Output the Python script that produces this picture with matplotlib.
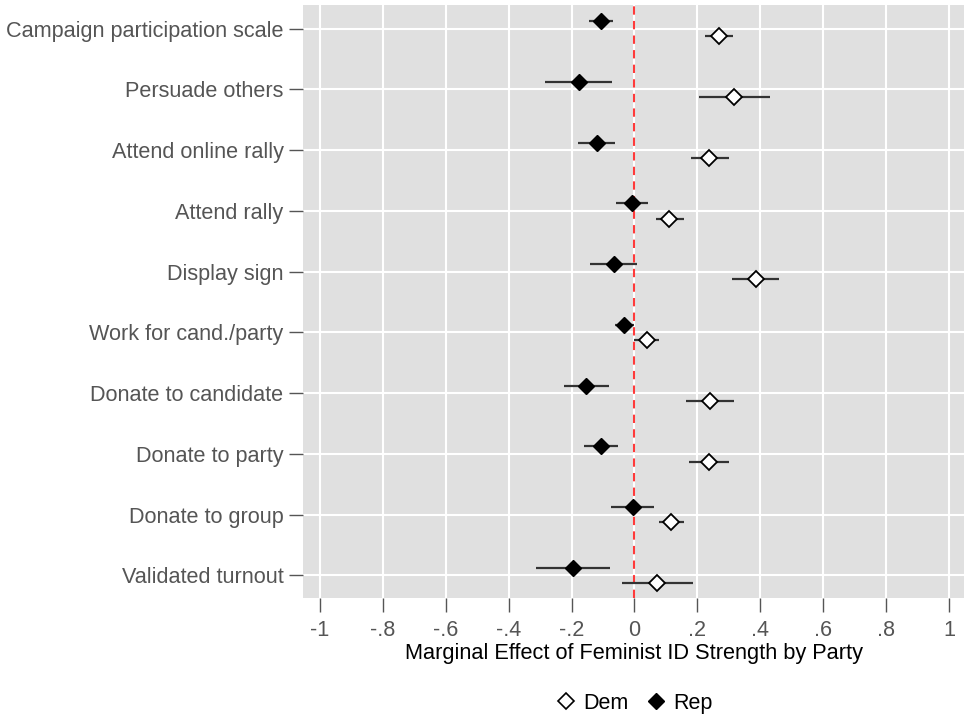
import numpy as np
import matplotlib.pyplot as plt
from matplotlib.lines import Line2D

plt.rcParams['font.family'] = ['Liberation Sans', 'DejaVu Sans']

# outcomes, top to bottom
outcomes = ["Campaign participation scale", "Persuade others", "Attend online rally",
            "Attend rally", "Display sign", "Work for cand./party", "Donate to candidate",
            "Donate to party", "Donate to group", "Validated turnout"]

# Dem estimates and 95% CI
dem_est = [0.268, 0.318, 0.238, 0.111, 0.386, 0.040, 0.240, 0.236, 0.116, 0.072]
dem_lo = [0.225, 0.204, 0.179, 0.067, 0.310, 0.000, 0.164, 0.175, 0.079, -0.040]
dem_hi = [0.312, 0.432, 0.300, 0.156, 0.460, 0.079, 0.317, 0.300, 0.157, 0.185]

# Rep estimates and 95% CI
rep_est = [-0.106, -0.175, -0.120, -0.008, -0.066, -0.034, -0.153, -0.108, -0.005, -0.196]
rep_lo = [-0.146, -0.284, -0.179, -0.060, -0.140, -0.063, -0.225, -0.162, -0.076, -0.314]
rep_hi = [-0.067, -0.070, -0.063, 0.042, 0.008, -0.002, -0.081, -0.051, 0.061, -0.077]

xticks = [-1, -0.8, -0.6, -0.4, -0.2, 0, 0.2, 0.4, 0.6, 0.8, 1]
xticklabels = ["-1", "-.8", "-.6", "-.4", "-.2", "0", ".2", ".4", ".6", ".8", "1"]

txt = '#555555'
fig = plt.figure(figsize=(9.65, 7.17), dpi=100)
ax = fig.add_axes([0.314, 0.166, 0.685, 0.827])
ax.set_facecolor('#e0e0e0')

y = np.arange(len(outcomes))
off = 0.125

# error bars
ax.hlines(y - off, rep_lo, rep_hi, color='#333333', lw=1.6, zorder=3)
ax.hlines(y + off, dem_lo, dem_hi, color='#333333', lw=1.6, zorder=3)

ax.axvline(0, color='#ff3a3a', lw=1.5, ls=(0, (4, 3)), zorder=2)

ax.plot(rep_est, y - off, ls='none', marker='D', ms=8.5, mfc='black', mec='black', zorder=4)
ax.plot(dem_est, y + off, ls='none', marker='D', ms=8.5, mfc='white', mec='black', mew=1.3, zorder=4)

ax.set_xlim(-1.054, 1.048)
ax.set_ylim(9.37, -0.39)
ax.set_xticks(xticks)
ax.set_xticklabels(xticklabels)
ax.set_yticks(y)
ax.set_yticklabels(outcomes)

ax.grid(True, color='white', lw=1.5, zorder=0)
ax.set_axisbelow(True)
for s in ax.spines.values():
    s.set_visible(False)

ax.tick_params(axis='both', colors=txt, labelsize=15.6, length=10, width=1, pad=4)
ax.tick_params(axis='x', pad=6)
ax.set_xlabel("Marginal Effect of Feminist ID Strength by Party", fontsize=15.7, color='black', labelpad=1)

handles = [Line2D([], [], ls='none', marker='D', ms=8, mfc='white', mec='black', mew=1.2, label='Dem'),
           Line2D([], [], ls='none', marker='D', ms=8, mfc='black', mec='black', label='Rep')]
fig.legend(handles=handles, loc='center', bbox_to_anchor=(0.657, 0.019), ncol=2, frameon=False,
           fontsize=15.5, handletextpad=0.3, columnspacing=0.8, handlelength=1.0)

fig.savefig('out.png', dpi=100)
